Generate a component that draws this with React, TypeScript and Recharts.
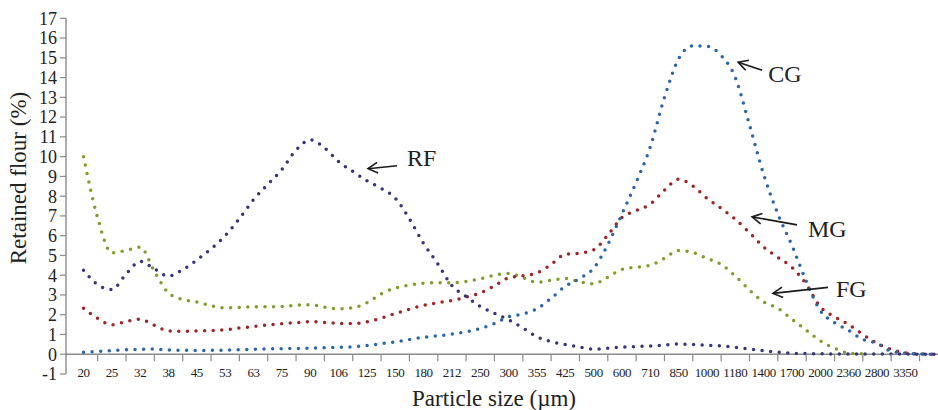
import React from 'react';
import { LineChart, Line, XAxis, YAxis, ReferenceLine, ReferenceDot } from 'recharts';

const sizeLabels = ['20', '25', '32', '38', '45', '53', '63', '75', '90', '106', '125', '150', '180', '212', '250', '300', '355', '425', '500', '600', '710', '850', '1000', '1180', '1400', '1700', '2000', '2360', '2800', '3350'];

// x positions in "category index" units (half-step readings), last one at the right edge
const positions = [
  0, 0.5, 1, 1.5, 2, 2.5, 3, 3.5, 4, 4.5, 5, 5.5, 6, 6.5, 7, 7.5, 8, 8.5, 9, 9.5,
  10, 10.5, 11, 11.5, 12, 12.5, 13, 13.5, 14, 14.5, 15, 15.5, 16, 16.5, 17, 17.5, 18, 18.5, 19, 19.5,
  20, 20.5, 21, 21.5, 22, 22.5, 23, 23.5, 24, 24.5, 25, 25.5, 26, 26.5, 27, 27.5, 28, 28.5, 29, 29.5, 30.1,
];

const rfValues = [
  4.25, 3.52, 3.28, 4.05, 4.7, 4.33, 3.95, 4.28, 4.77, 5.33, 6.0, 6.86, 7.82, 8.6, 9.35, 10.33, 10.85, 10.45, 9.75, 9.25,
  8.78, 8.4, 7.9, 6.85, 5.6, 4.58, 3.47, 2.92, 2.42, 2.07, 1.74, 1.33, 0.88, 0.64, 0.49, 0.36, 0.26, 0.3, 0.36, 0.39,
  0.42, 0.46, 0.52, 0.49, 0.45, 0.42, 0.35, 0.27, 0.18, 0.11, 0.05, 0.03, 0.02, 0.01, 0.01, 0.01, 0.01, 0.01, 0.01, 0.0, 0.0,
];

const cgValues = [
  0.1, 0.14, 0.18, 0.22, 0.25, 0.26, 0.22, 0.2, 0.19, 0.2, 0.21, 0.23, 0.25, 0.27, 0.28, 0.29, 0.31, 0.33, 0.35, 0.38,
  0.44, 0.53, 0.63, 0.74, 0.86, 0.93, 1.02, 1.13, 1.3, 1.55, 1.9, 2.04, 2.3, 2.83, 3.44, 3.83, 4.35, 5.55, 7.1, 8.7,
  10.5, 13.0, 14.95, 15.6, 15.58, 15.12, 14.0, 11.6, 9.1, 7.1, 5.5, 3.7, 2.2, 1.6, 1.2, 0.75, 0.55, 0.15, 0.05, 0.02, 0.0,
];

const mgValues = [
  2.33, 1.82, 1.49, 1.65, 1.77, 1.47, 1.18, 1.16, 1.18, 1.2, 1.24, 1.33, 1.4, 1.48, 1.54, 1.6, 1.65, 1.61, 1.56, 1.55,
  1.64, 1.82, 2.06, 2.28, 2.47, 2.61, 2.72, 2.89, 3.1, 3.46, 3.87, 3.97, 4.12, 4.54, 5.06, 5.11, 5.28, 6.03, 6.92, 7.27,
  7.6, 8.3, 8.86, 8.52, 7.89, 7.38, 6.83, 6.15, 5.43, 4.9, 4.4, 3.55, 2.4, 1.9, 1.5, 1.0, 0.55, 0.25, 0.07, 0.02, 0.0,
];

const fgValues = [
  10.0, 6.9, 5.13, 5.25, 5.42, 4.2, 3.1, 2.77, 2.65, 2.45, 2.35, 2.37, 2.4, 2.4, 2.42, 2.48, 2.5, 2.38, 2.3, 2.35,
  2.6, 3.05, 3.35, 3.5, 3.6, 3.62, 3.62, 3.68, 3.82, 4.0, 4.08, 3.88, 3.64, 3.74, 3.84, 3.67, 3.56, 3.9, 4.3, 4.4,
  4.5, 4.85, 5.25, 5.15, 4.85, 4.55, 3.95, 3.25, 2.65, 2.33, 1.77, 1.22, 0.68, 0.3, 0.06, 0.02, null, null, null, null, null,
];

const yTicks = [-1, 0, 1, 2, 3, 4, 5, 6, 7, 8, 9, 10, 11, 12, 13, 14, 15, 16, 17];

const annotations = [
  { label: 'RF', p: 10.04, v: 9.39, tail: [29, -3], text: [39, -11] },
  { label: 'CG', p: 23.1, v: 14.78, tail: [24, 8], text: [30, 12] },
  { label: 'MG', p: 23.59, v: 6.95, tail: [45, 8], text: [56, 12] },
  { label: 'FG', p: 24.33, v: 3.08, tail: [55, -6], text: [63, -4] },
];

const data = positions.map((p, i) => ({
  p,
  RF: rfValues[i],
  CG: cgValues[i],
  MG: mgValues[i],
  FG: fgValues[i],
}));

const xTicks: number[] = [];
sizeLabels.forEach((_, i) => {
  xTicks.push(i);
  xTicks.push(i + 0.5);
});

const FONT = '"Liberation Serif", "Times New Roman", serif';
const W = 938;
const H = 410;
const PLOT_TOP = 18.3;
const PLOT_BOTTOM = 374;
const PLOT_LEFT = 66;
const ZERO_Y = PLOT_TOP + (17 / 18) * (PLOT_BOTTOM - PLOT_TOP);
const AXIS_COLOR = '#8a8a8a';
const TEXT_COLOR = '#222';

const XTick = (props: any) => {
  const { x, payload } = props;
  const v = payload.value;
  if (Number.isInteger(v)) {
    return (
      <text
        x={x}
        y={ZERO_Y + 18}
        textAnchor="middle"
        dominantBaseline="central"
        fontSize={13}
        letterSpacing={-0.4}
        fontFamily={FONT}
        fill={TEXT_COLOR}
      >
        {sizeLabels[v]}
      </text>
    );
  }
  return <line x1={x} x2={x} y1={ZERO_Y} y2={ZERO_Y + 7} stroke={AXIS_COLOR} strokeWidth={1.2} />;
};

const YTitle = () => (
  <text
    x={18}
    y={178}
    transform="rotate(-90 18 178)"
    textAnchor="middle"
    dominantBaseline="central"
    fontSize={23}
    fontFamily={FONT}
    fill={TEXT_COLOR}
  >
    Retained flour (%)
  </text>
);

const XTitle = () => (
  <text x={494} y={398} textAnchor="middle" dominantBaseline="central" fontSize={23} fontFamily={FONT} fill={TEXT_COLOR}>
    Particle size (µm)
  </text>
);

const makeArrow = (a: any) => (props: any) => {
  const { cx, cy } = props;
  if (cx == null || cy == null) return null;
  const dx = a.tail[0];
  const dy = a.tail[1];
  const len = Math.hypot(dx, dy);
  const ux = dx / len;
  const uy = dy / len;
  const ang = 0.5;
  const L = 11;
  const rot = (s: number) => [
    cx + L * (ux * Math.cos(s) - uy * Math.sin(s)),
    cy + L * (ux * Math.sin(s) + uy * Math.cos(s)),
  ];
  const b1 = rot(ang);
  const b2 = rot(-ang);
  return (
    <g>
      <line x1={cx} y1={cy} x2={cx + dx} y2={cy + dy} stroke="#1a1a1a" strokeWidth={1.6} />
      <polyline points={`${b1[0]},${b1[1]} ${cx},${cy} ${b2[0]},${b2[1]}`} fill="none" stroke="#1a1a1a" strokeWidth={1.6} />
      <text x={cx + a.text[0]} y={cy + a.text[1]} dominantBaseline="central" fontSize={24} fontFamily={FONT} fill={TEXT_COLOR}>
        {a.label}
      </text>
    </g>
  );
};

const dotted = {
  strokeWidth: 3.5,
  strokeDasharray: '0 8.6',
  strokeLinecap: 'round' as const,
  dot: false,
  activeDot: false,
  isAnimationActive: false,
  type: 'monotone' as const,
  connectNulls: false,
};

export default function App() {
  const leftIdx = -(83.5 - PLOT_LEFT) / 28.34;
  const rightIdx = (W - 83.5) / 28.34;
  return (
    <div style={{ position: 'absolute', left: 0, top: 0, width: W, height: H, background: '#fff' }}>
      <LineChart width={W} height={H} data={data} margin={{ top: PLOT_TOP, right: 0, left: 0, bottom: 0 }}>
        <XAxis
          dataKey="p"
          type="number"
          domain={[leftIdx, rightIdx]}
          allowDataOverflow
          ticks={xTicks}
          interval={0}
          tick={<XTick />}
          tickLine={false}
          axisLine={false}
          height={H - PLOT_BOTTOM}
          label={<XTitle />}
        />
        <YAxis
          type="number"
          domain={[-1, 17]}
          ticks={yTicks}
          interval={0}
          allowDataOverflow
          width={PLOT_LEFT}
          tickSize={6}
          tickMargin={3}
          tick={{ fontSize: 18, fill: TEXT_COLOR, fontFamily: FONT }}
          axisLine={{ stroke: AXIS_COLOR, strokeWidth: 1.4 }}
          tickLine={{ stroke: AXIS_COLOR, strokeWidth: 1.2 }}
          label={<YTitle />}
        />
        <ReferenceLine y={0} stroke={AXIS_COLOR} strokeWidth={1.4} />
        <Line dataKey="FG" stroke="#7f9c2c" {...dotted} />
        <Line dataKey="MG" stroke="#9e2429" {...dotted} />
        <Line dataKey="CG" stroke="#2b66ab" {...dotted} />
        <Line dataKey="RF" stroke="#37357a" {...dotted} />
        {annotations.map((a) => (
          <ReferenceDot key={a.label} x={a.p} y={a.v} r={0} ifOverflow="visible" shape={makeArrow(a)} />
        ))}
      </LineChart>
    </div>
  );
}
